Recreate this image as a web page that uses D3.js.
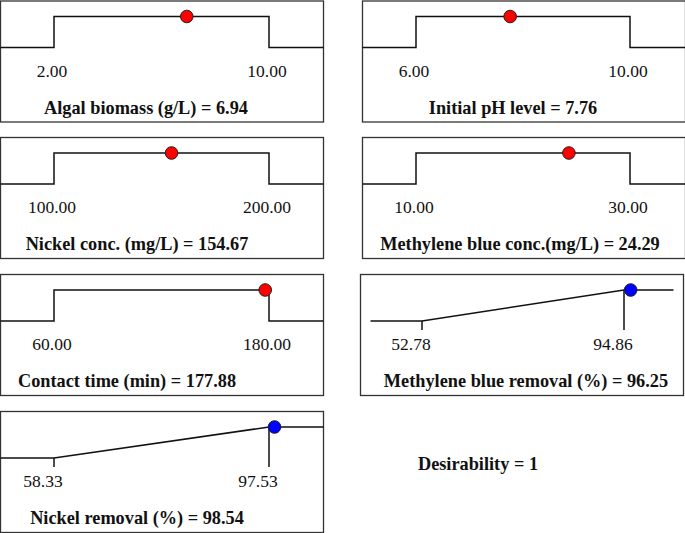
<!doctype html>
<html lang="en">
<head>
<meta charset="utf-8">
<style>
  body { margin: 0; background: #fff; }
  text { font-family: "Liberation Serif", "Times New Roman", serif; fill: #111; }
  .tick { font-size: 17.5px; }
  .title { font-size: 18.3px; font-weight: bold; }
</style>
<script src="https://cdnjs.cloudflare.com/ajax/libs/d3/7.8.5/d3.min.js"></script>
</head>
<body>
<div id="chart"></div>
<script>
// desirability ramps
var names = ["Algal biomass (g/L)", "Initial pH level", "Nickel conc. (mg/L)",
             "Methylene blue conc.(mg/L)", "Contact time (min)",
             "Methylene blue removal (%)", "Nickel removal (%)"];
var lows   = [2.00, 6.00, 100.00, 10.00, 60.00, 52.78, 58.33];
var highs  = [10.00, 10.00, 200.00, 30.00, 180.00, 94.86, 97.53];
var values = [6.94, 7.76, 154.67, 24.29, 177.88, 96.25, 98.54];
var kinds  = ["range", "range", "range", "range", "range", "max", "max"];
var tickLabels = [["2.00", "10.00"], ["6.00", "10.00"], ["100.00", "200.00"],
                  ["10.00", "30.00"], ["60.00", "180.00"], ["52.78", "94.86"],
                  ["58.33", "97.53"]];
var desirability = 1;

// layout: box positions and per-panel inner ranges / title centres
var boxW = 323, boxH = 121;
var boxX = [0, 362, 0, 362, 0, 360, 0];
var boxY = [0.5, 0.5, 137, 137, 274, 274, 411];
var innerRange = [[54, 269], [54, 268], [54, 269], [54, 268], [54, 269], [62, 264], [54, 269]];
var titleX = [146, 151, 137, 158, 127, 166, 137];
var lineInset = [0, 0, 0, 0, 0, 10, 0];

var width = 685, height = 533;
var svg = d3.select("#chart").append("svg")
  .attr("width", width).attr("height", height);

names.forEach(function(name, i) {
  var g = svg.append("g").attr("transform", "translate(" + boxX[i] + "," + boxY[i] + ")");
  g.append("rect")
    .attr("x", 0.5).attr("y", 0.5)
    .attr("width", boxW).attr("height", boxH)
    .attr("fill", "none").attr("stroke", "#333").attr("stroke-width", 1.3);

  var x = d3.scaleLinear().domain([lows[i], highs[i]]).range(innerRange[i]);
  var y = d3.scaleLinear().domain([0, 1]).range([47, 16]);
  var x0 = lineInset[i] + 0.5, x1 = boxW + 0.5 - lineInset[i];
  var pts;
  if (kinds[i] === "range") {
    pts = [[x0, y(0)], [x(lows[i]), y(0)], [x(lows[i]), y(1)],
           [x(highs[i]), y(1)], [x(highs[i]), y(0)], [x1, y(0)]];
  } else {
    pts = [[x0, y(0)], [x(lows[i]), y(0)], [x(highs[i]), y(1)], [x1, y(1)]];
  }
  g.append("path")
    .attr("d", d3.line()(pts))
    .attr("fill", "none").attr("stroke", "#111").attr("stroke-width", 1.5);

  if (kinds[i] === "max") {
    // small ticks marking the ramp ends
    g.append("line")
      .attr("x1", x(lows[i])).attr("x2", x(lows[i]))
      .attr("y1", y(0)).attr("y2", y(0) + 9)
      .attr("stroke", "#111").attr("stroke-width", 1.5);
    g.append("line")
      .attr("x1", x(highs[i])).attr("x2", x(highs[i]))
      .attr("y1", y(1)).attr("y2", y(0) + 9)
      .attr("stroke", "#111").attr("stroke-width", 1.5);
  }

  var d = kinds[i] === "range" ? 1 : Math.min(1, (values[i] - lows[i]) / (highs[i] - lows[i]));
  g.append("circle")
    .attr("cx", x(values[i])).attr("cy", y(d))
    .attr("r", 6.3)
    .attr("fill", kinds[i] === "range" ? "#ff0000" : "#0000ff")
    .attr("stroke", "#222").attr("stroke-width", 1);

  var dx = kinds[i] === "range" ? -2 : -11;
  g.selectAll(".tick")
    .data([lows[i], highs[i]])
    .enter().append("text")
    .attr("class", "tick")
    .attr("x", function(v) { return x(v) + dx; })
    .attr("y", 76)
    .attr("text-anchor", "middle")
    .text(function(v, j) { return tickLabels[i][j]; });

  g.append("text")
    .attr("class", "title")
    .attr("x", titleX[i]).attr("y", 113)
    .attr("text-anchor", "middle")
    .text(name + " = " + d3.format(".2f")(values[i]));
});

svg.append("text")
  .attr("class", "title")
  .attr("x", 478).attr("y", 470)
  .attr("text-anchor", "middle")
  .text("Desirability = " + desirability);
</script>
</body>
</html>
